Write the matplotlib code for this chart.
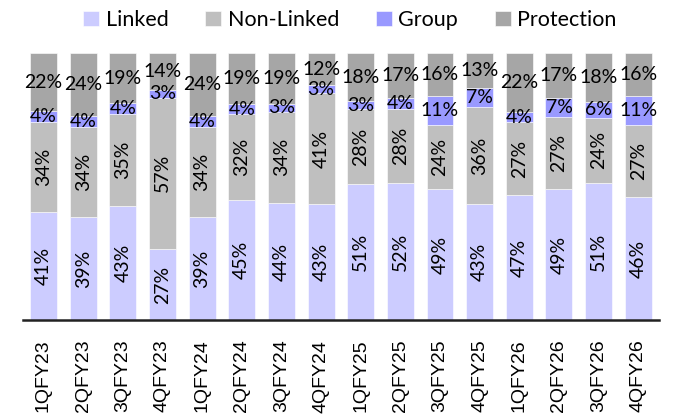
import numpy as np
import matplotlib
matplotlib.use("Agg")
import matplotlib.pyplot as plt

quarters = ["1QFY23", "2QFY23", "3QFY23", "4QFY23", "1QFY24", "2QFY24", "3QFY24", "4QFY24",
            "1QFY25", "2QFY25", "3QFY25", "4QFY25", "1QFY26", "2QFY26", "3QFY26", "4QFY26"]
linked     = [41, 39, 43, 27, 39, 45, 44, 43, 51, 52, 49, 43, 47, 49, 51, 46]
non_linked = [34, 34, 35, 57, 34, 32, 34, 41, 28, 28, 24, 36, 27, 27, 24, 27]
group      = [4, 4, 4, 3, 4, 4, 3, 3, 3, 4, 11, 7, 4, 7, 6, 11]
protection = [22, 24, 19, 14, 24, 19, 19, 12, 18, 17, 16, 13, 22, 17, 18, 16]

names = ["Linked", "Non-Linked", "Group", "Protection"]
colors = ["#CCCCFF", "#BFBFBF", "#9999FF", "#A6A6A6"]
rotated = [True, True, False, False]

series = np.array([linked, non_linked, group, protection], dtype=float)
shares = series / series.sum(axis=0) * 100  # bars stack to 100%

fig = plt.figure(figsize=(6.73, 4.17), dpi=100)
ax = fig.add_axes([0.034, 0.232, 0.945, 0.641])

x = np.arange(len(quarters))
bottom = np.zeros(len(quarters))
for vals, share, name, col, rot in zip(series, shares, names, colors, rotated):
    ax.bar(x, share, 0.68, bottom=bottom, color=col, label=name,
           edgecolor="white", linewidth=0.4)
    for xi, b, h, v in zip(x, bottom, share, vals):
        ax.text(xi, b + h / 2, f"{v:.0f}%", ha="center", va="center",
                rotation=90 if rot else 0, fontsize=14, family="Lato",
                color="black")
    bottom += share

ax.set_xlim(-0.52, len(quarters) - 0.48)
ax.set_ylim(0, 100)
ax.set_xticks(x)
ax.set_xticklabels(quarters, rotation=90, fontsize=14, family="Liberation Sans")
ax.tick_params(axis="x", length=0, pad=14)
ax.set_yticks([])
for s in ["top", "right", "left"]:
    ax.spines[s].set_visible(False)
ax.spines["bottom"].set_linewidth(1.8)
ax.spines["bottom"].set_color("#222222")

handles, labels = ax.get_legend_handles_labels()
fig.legend(handles, labels, loc="center", bbox_to_anchor=(0.52, 0.952), ncol=4,
           frameon=False, prop={"family": "Lato", "size": 15.5},
           handlelength=0.75, handleheight=0.75, handletextpad=0.3,
           columnspacing=1.7)

fig.savefig("out.png", dpi=100)
